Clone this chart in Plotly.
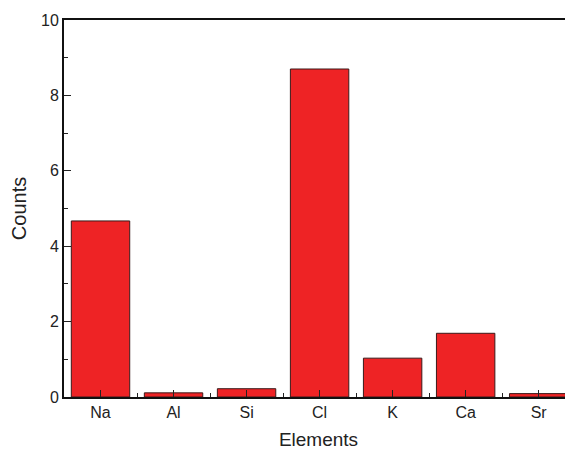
import plotly.graph_objects as go

categories = ["Na", "Al", "Si", "Cl", "K", "Ca", "Sr"]
counts = [4.67, 0.11, 0.22, 8.70, 1.03, 1.69, 0.09]
y_ticks = [0, 2, 4, 6, 8, 10]

xpos = list(range(len(categories)))
minor_x = [i + 0.5 for i in xpos]
minor_y = [v + 1 for v in y_ticks[:-1]]

fig = go.Figure(go.Bar(
    x=xpos, y=counts, width=0.8,
    marker=dict(color="rgb(238,35,37)", line=dict(color="#3a1a1a", width=1)),
))

# page body has an 8px default margin, so the figure is offset by 8px
fig.update_layout(
    width=565, height=442,
    margin=dict(l=56, r=0, t=12, b=53),
    plot_bgcolor="white", paper_bgcolor="white",
    font=dict(family="Liberation Sans, Arial, sans-serif", color="#222", size=16),
    showlegend=False,
)
fig.update_xaxes(
    range=[-0.5, 6.47],
    tickmode="array", tickvals=xpos, ticktext=categories,
    ticks="inside", ticklen=7, tickwidth=1, tickcolor="#222",
    showline=True, linecolor="#111", linewidth=2, mirror=True,
    showgrid=False, zeroline=False,
    minor=dict(tickmode="array", tickvals=minor_x, ticks="inside", ticklen=4, tickwidth=1, tickcolor="#222"),
    title=dict(text="Elements", font=dict(size=19), standoff=13),
    automargin=False,
)
fig.update_yaxes(
    range=[0, 10],
    tickmode="array", tickvals=y_ticks,
    ticks="inside", ticklen=7, tickwidth=1, tickcolor="#222",
    showline=True, linecolor="#111", linewidth=2,
    showgrid=False, zeroline=False,
    minor=dict(tickmode="array", tickvals=minor_y, ticks="inside", ticklen=4, tickwidth=1, tickcolor="#222"),
    title=dict(text="Counts", font=dict(size=20), standoff=12),
    automargin=False,
)

fig.write_html("out.html")
